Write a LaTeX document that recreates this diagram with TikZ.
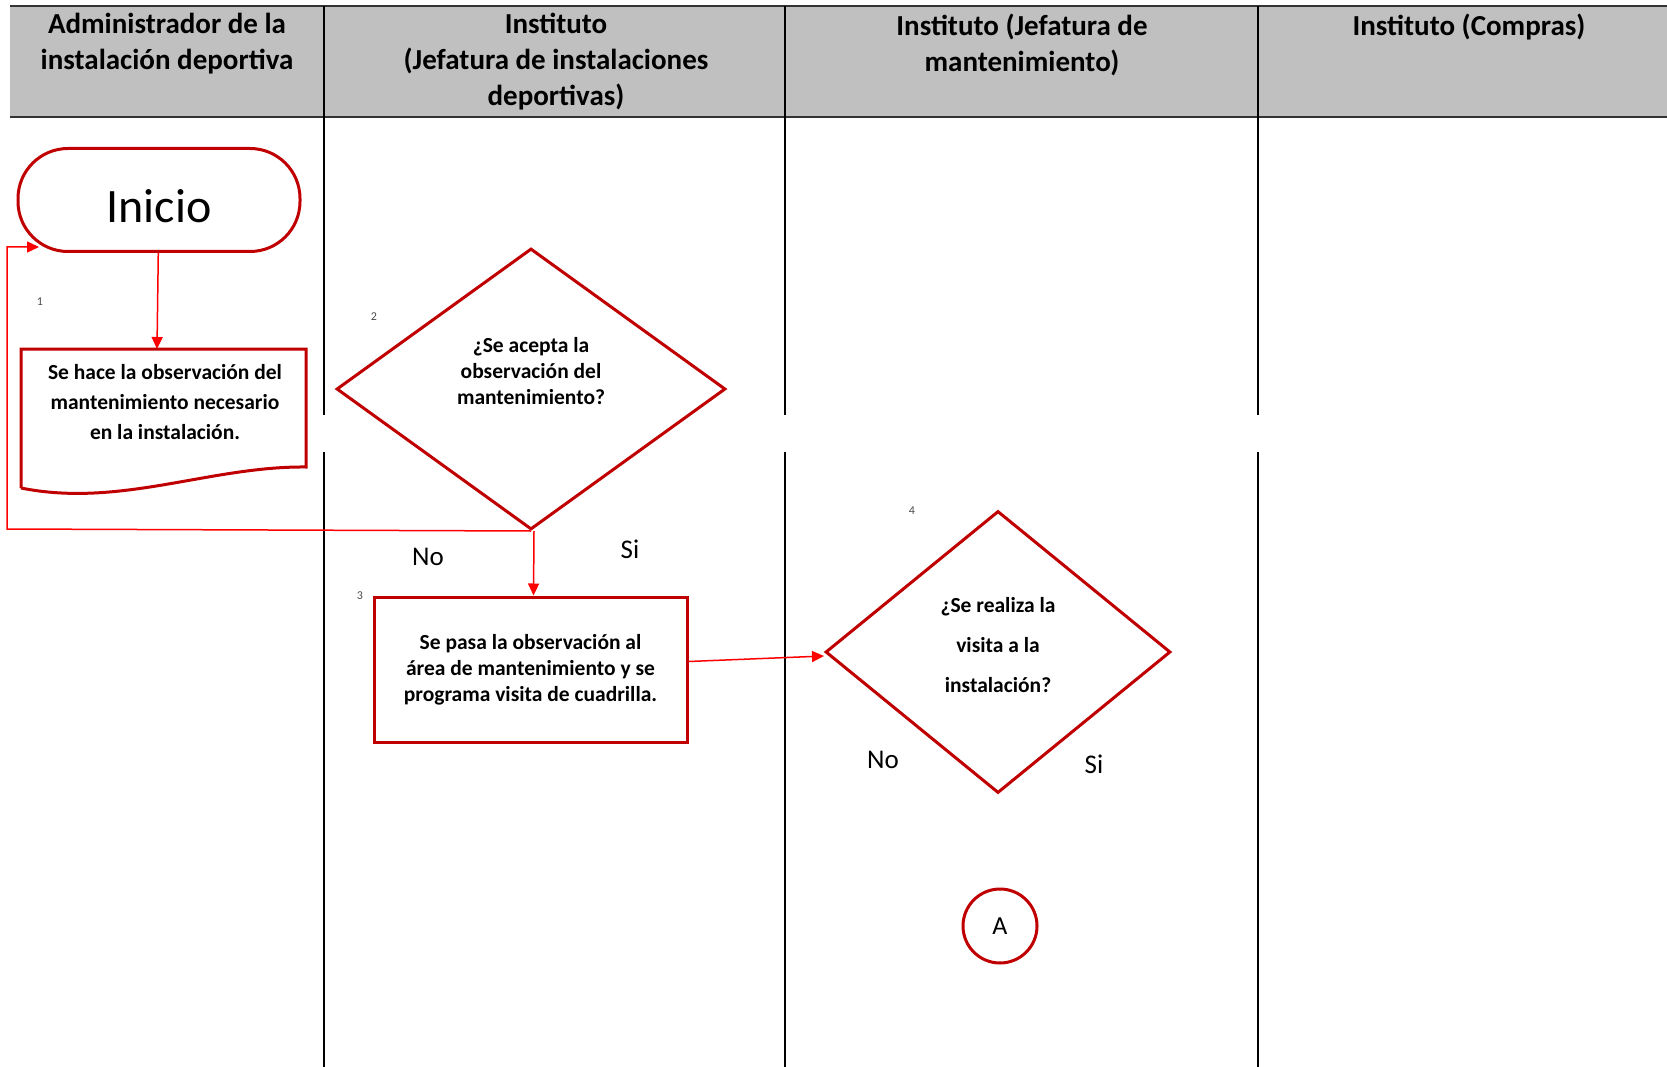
\documentclass[tikz,border=0pt]{standalone}
\usepackage{fontspec}
\setmainfont{Carlito}
\usepackage{tikz}
\usetikzlibrary{shapes.geometric,arrows.meta}

\definecolor{rojo}{HTML}{C00000}
\definecolor{flecha}{HTML}{FF0000}
\definecolor{encabezado}{HTML}{C0C0C0}

\tikzset{
	titulo/.style={anchor=north, align=center, font=\bfseries\fontsize{29}{36}\selectfont},
	terminal/.style={draw=rojo, line width=3pt, rectangle, rounded corners=50pt, minimum width=282pt, minimum height=103pt, text height=45pt, font=\fontsize{48}{56}\selectfont},
	proceso/.style={draw=rojo, line width=3pt, rectangle, align=center, font=\bfseries\fontsize{21.5}{26}\selectfont},
	decision/.style={draw=rojo, line width=3pt, diamond, inner sep=0pt},
	texto/.style={align=center, font=\bfseries\fontsize{21.5}{26}\selectfont},
	conector/.style={draw=flecha, line width=1.5pt, -{Triangle[length=12pt,width=11pt]}},
	etiqueta/.style={font=\fontsize{27}{30}\selectfont},
	numero/.style={text=black!70, font=\fontsize{12}{13}\selectfont},
	conectorA/.style={draw=rojo, line width=3pt, circle, minimum size=74pt, font=\fontsize{26}{30}\selectfont}
}

\begin{document}
\begin{tikzpicture}[x=1pt,y=-1pt]
	\useasboundingbox (0,0) rectangle (1667,1067);
	\fill[encabezado] (10,6) rectangle (1667,117);
	\draw[line width=2.5pt, black!80] (10,6) -- (1667,6);
	\draw[line width=2.5pt, black!80] (10,117) -- (1667,117);
	\foreach \x in {324,785,1258} {
		\draw[line width=1.5pt] (\x,6) -- (\x,415);
		\draw[line width=1.5pt] (\x,452) -- (\x,1067);
	}

	\node[titulo] (carril1) at (167,10) {Administrador de la\\instalación deportiva};
	\node[titulo] (carril2) at (556,10) {Instituto\\(Jefatura de instalaciones\\deportivas)};
	\node[titulo] (carril3) at (1022,10) {Instituto (Jefatura de\\mantenimiento)};
	\node[titulo] (carril4) at (1469,10) {Instituto (Compras)};

	\node[terminal] (inicio) at (159,200) {Inicio};

	\draw[rojo, line width=3pt] (21,488) -- (21,349) -- (306,349) -- (306,467)
		.. controls (210,466) and (120,508) .. (21,488);
	\node[texto, font=\bfseries\fontsize{21.5}{30}\selectfont] (observacion) at (165,402) {Se hace la observación del\\mantenimiento necesario\\en la instalación.};
	\coordinate (obstop) at (157,349);

	\node[decision, minimum width=389pt, minimum height=281pt] (acepta) at (531,389) {};
	\node[texto] (aceptatxt) at (531,371) {¿Se acepta la\\observación del\\mantenimiento?};

	\node[proceso, minimum width=313pt, minimum height=145pt] (pasa) at (530.5,669.5) {Se pasa la observación al\\área de mantenimiento y se\\programa visita de cuadrilla.};

	\node[decision, minimum width=345pt, minimum height=282pt] (visita) at (998,652) {};
	\node[texto, font=\bfseries\fontsize{21.5}{40}\selectfont] (visitatxt) at (998,645) {¿Se realiza la\\visita a la\\instalación?};

	\node[conectorA] (conA) at (1000,926) {A};

	\node[numero] (n1) at (40,302) {1};
	\node[numero] (n2) at (374,317) {2};
	\node[numero] (n3) at (360,596) {3};
	\node[numero] (n4) at (912,511) {4};

	\node[etiqueta] (no1) at (428,557) {No};
	\node[etiqueta] (si1) at (630,549) {Si};
	\node[etiqueta] (no2) at (883,760) {No};
	\node[etiqueta] (si2) at (1094,764) {Si};

	\coordinate (retorno) at (7,529);
	\coordinate (inicioret) at (39,247);

	\draw[conector] (inicio) -- (obstop);
	\draw[conector] (acepta.south) -- (retorno) |- (inicioret);
	\draw[conector] ([xshift=3pt]acepta.south) -- ([xshift=3pt]pasa.north);
	\draw[conector] ([yshift=8pt]pasa.east) -- ([yshift=-4pt]visita.west);
\end{tikzpicture}
\end{document}
